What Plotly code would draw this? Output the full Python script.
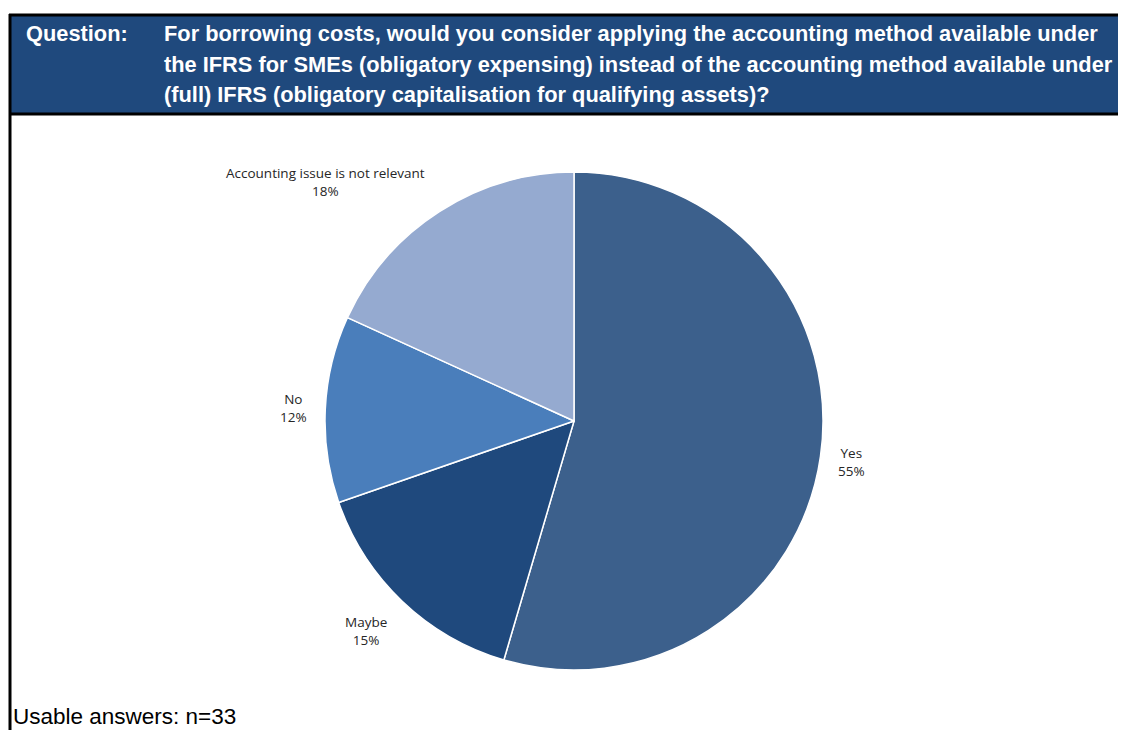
import plotly.graph_objects as go

categories = ["Yes", "Maybe", "No", "Accounting issue is not relevant"]
counts = [18, 5, 4, 6]
colors = ["#3C608C", "#1F497D", "#4A7EBB", "#95AAD0"]
question_lines = [
    "For borrowing costs, would you consider applying the accounting method available under",
    "the IFRS for SMEs (obligatory expensing) instead of the accounting method available under",
    "(full) IFRS (obligatory capitalisation for qualifying assets)?",
]
footnote = "Usable answers: n=33"

# The page body has an 8px margin; work in window pixels and convert.
OFF = 8
W, H = 1126 - OFF, 738 - 2 * OFF


def px(x):
    return (x - OFF) / W


def py(y):
    return 1 - (y - OFF) / H


cx, cy, r = 574, 421, 249
# label centres (window pixels), style only
label_pos = [(852, 462), (366, 631), (293, 408), (325, 182)]

fig = go.Figure()
fig.add_trace(go.Pie(
    labels=categories, values=counts, sort=False, direction="clockwise", rotation=0,
    marker=dict(colors=colors, line=dict(color="white", width=1.5)),
    textinfo="none", hoverinfo="label+percent", showlegend=False,
    domain=dict(x=[px(cx - r), px(cx + r)], y=[py(cy + r), py(cy - r)]),
))

annotations = []
total = sum(counts)
for cat, v, (lx, ly) in zip(categories, counts, label_pos):
    pct = round(v / total * 100)
    annotations.append(dict(
        x=px(lx), y=py(ly), xref="paper", yref="paper", showarrow=False,
        text=f"{cat}<br>{pct}%", align="center", xanchor="center", yanchor="middle",
        font=dict(family="Open Sans, Liberation Sans, sans-serif", size=13.5, color="#262626"),
    ))

hdr_font = dict(family="Liberation Sans, Arial, sans-serif", size=21.8, color="white")
line_y = [33, 64, 95]
annotations.append(dict(x=px(24), y=py(line_y[0]), xref="paper", yref="paper", showarrow=False,
                        xanchor="left", yanchor="middle", align="left", text="<b>Question:</b>", font=hdr_font))
for line, ly in zip(question_lines, line_y):
    annotations.append(dict(x=px(162), y=py(ly), xref="paper", yref="paper", showarrow=False,
                            xanchor="left", yanchor="middle", align="left",
                            text=f"<b>{line}</b>", font=hdr_font))
annotations.append(dict(x=px(11), y=py(716), xref="paper", yref="paper", showarrow=False,
                        xanchor="left", yanchor="middle", align="left", text=footnote,
                        font=dict(family="Liberation Sans, Arial, sans-serif", size=22.5, color="black")))

shapes = [
    dict(type="rect", xref="paper", yref="paper", x0=px(10), x1=1.01, y0=py(113), y1=py(15),
         fillcolor="#1F497D", line=dict(width=0), layer="below"),
    dict(type="line", xref="paper", yref="paper", x0=px(9), x1=1.01, y0=py(15), y1=py(15),
         line=dict(color="black", width=3)),
    dict(type="line", xref="paper", yref="paper", x0=px(9), x1=1.01, y0=py(114), y1=py(114),
         line=dict(color="black", width=3)),
    dict(type="line", xref="paper", yref="paper", x0=px(10), x1=px(10), y0=-0.02, y1=py(14),
         line=dict(color="black", width=3)),
]

fig.update_layout(
    width=W, height=H, margin=dict(l=0, r=0, t=0, b=0),
    paper_bgcolor="white", plot_bgcolor="white",
    annotations=annotations, shapes=shapes,
)
fig.write_html("out.html")
